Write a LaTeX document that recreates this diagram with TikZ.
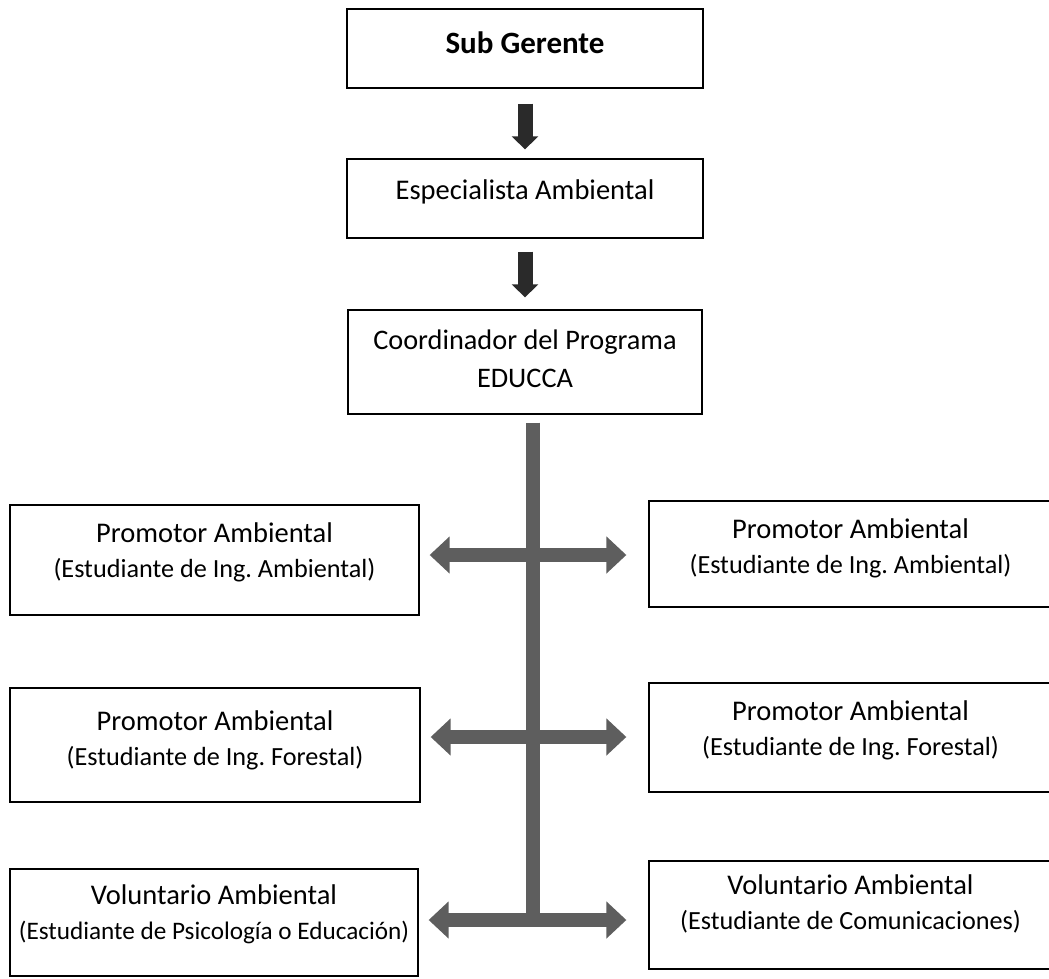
\documentclass[tikz,border=0pt]{standalone}
\usepackage{fontspec}
\setmainfont{Carlito}
\usetikzlibrary{arrows.meta}
\definecolor{darkarr}{HTML}{2A2A2A}
\definecolor{grayarr}{HTML}{5E5E5E}
\frenchspacing
\newcommand{\lineA}[1]{{\fontsize{28.5}{35}\selectfont #1}}
\newcommand{\lineB}[1]{{\fontsize{26.2}{35}\selectfont #1}}
\newcommand{\lineC}[1]{{\fontsize{25.2}{35}\selectfont #1}}
\begin{document}
\begin{tikzpicture}[x=1pt,y=-1pt,
  box/.style={draw=black, line width=1.3pt, rectangle, inner sep=0pt},
  boxtext/.style={align=center, font=\fontsize{26.2}{35}\selectfont, inner sep=0pt},
  darrow/.style={draw=darkarr, line width=15pt, -{Triangle[width=26pt,length=13pt]}},
  garrow/.style={draw=grayarr, line width=14pt, {Triangle[width=36pt,length=20pt]}-{Triangle[width=36pt,length=20pt]}},
  gbar/.style={draw=grayarr, line width=14pt}
]
\useasboundingbox (0,0) rectangle (1049,979);
\fill[white] (0,0) rectangle (1049,979);

% top chain
\node[box, minimum width=356pt, minimum height=79pt,
  label={[boxtext, yshift=6pt, font=\fontsize{31}{36}\selectfont\bfseries]center:Sub Gerente}] (SG) at (525,48.5) {};
\node[box, minimum width=356pt, minimum height=79pt,
  label={[boxtext, yshift=6.5pt]center:\lineA{Especialista Ambiental}}] (EA) at (525,198.5) {};
\node[box, minimum width=354pt, minimum height=104pt,
  label={[boxtext, yshift=3pt, font=\fontsize{28.3}{38}\selectfont]center:{Coordinador del Programa\\EDUCCA}}] (CP) at (525,362) {};

% left column
\node[box, minimum width=409pt, minimum height=110pt,
  label={[boxtext, yshift=7.5pt]center:{\lineA{Promotor Ambiental}\\\lineB{(Estudiante de Ing. Ambiental)}}}] (L1) at (214.5,560) {};
\node[box, minimum width=410pt, minimum height=114pt,
  label={[boxtext, yshift=5pt]center:{\lineA{Promotor Ambiental}\\\lineB{(Estudiante de Ing. Forestal)}}}] (L2) at (215,745) {};
\node[box, minimum width=408pt, minimum height=107pt,
  label={[boxtext, yshift=8.5pt]center:{\lineA{Voluntario Ambiental}\\\lineC{(Estudiante de Psicología o Educación)}}}] (L3) at (214,922.5) {};

% right column
\node[box, minimum width=403pt, minimum height=106pt,
  label={[boxtext, yshift=5.5pt]center:{\lineA{Promotor Ambiental}\\\lineB{(Estudiante de Ing. Ambiental)}}}] (R1) at (850.5,554) {};
\node[box, minimum width=403pt, minimum height=109pt,
  label={[boxtext, yshift=7pt]center:{\lineA{Promotor Ambiental}\\\lineB{(Estudiante de Ing. Forestal)}}}] (R2) at (850.5,737.5) {};
\node[box, minimum width=403pt, minimum height=108pt,
  label={[boxtext, yshift=11pt]center:{\lineA{Voluntario Ambiental}\\\lineB{(Estudiante de Comunicaciones)}}}] (R3) at (850.5,915) {};

% dark arrows
\draw[darrow, shorten <=15pt, shorten >=9pt] (SG.south) -- (EA.north);
\draw[darrow, shorten <=13pt, shorten >=12pt] (EA.south) -- (CP.north);

% gray trunk
\coordinate (h1) at (533,555);
\coordinate (h2) at (533,737);
\coordinate (h3) at (533,920);
\coordinate (barbot) at (533,927);
\draw[gbar, shorten <=8pt] (CP.south -| barbot) -- (barbot);

% gray double arrows
\draw[garrow, shorten <=10pt, shorten >=22pt] (L1.east |- h1) -- (R1.west |- h1);
\draw[garrow, shorten <=10pt, shorten >=22pt] (L2.east |- h2) -- (R2.west |- h2);
\draw[garrow, shorten <=10pt, shorten >=22pt] (L3.east |- h3) -- (R3.west |- h3);
\end{tikzpicture}
\end{document}
